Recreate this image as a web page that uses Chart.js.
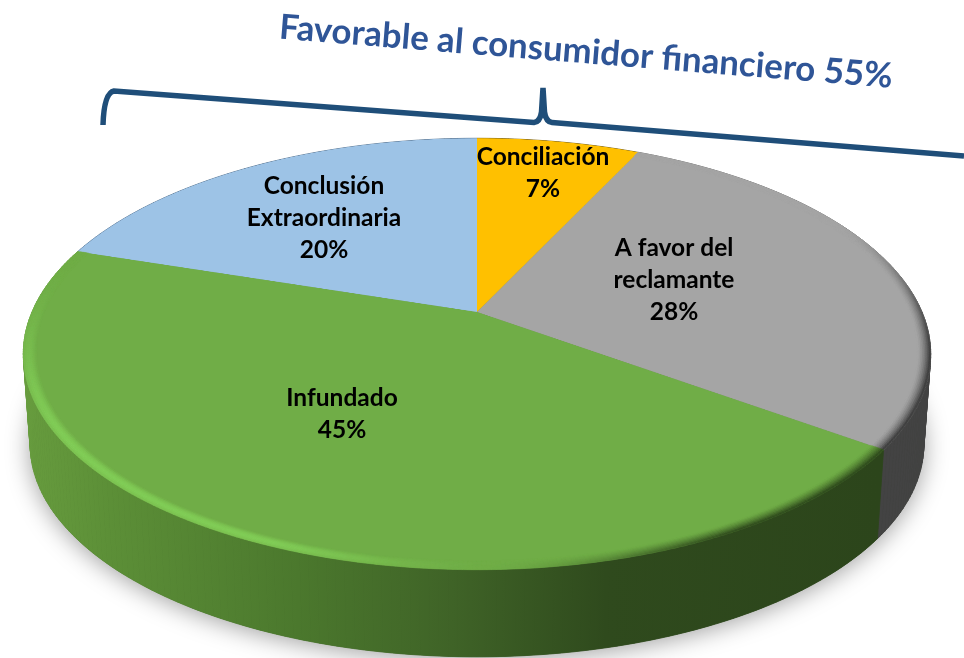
<!DOCTYPE html>
<html lang="es">
<head>
<meta charset="utf-8">
<style>
html,body{margin:0;padding:0;background:#fff;width:964px;height:658px;overflow:hidden}
#stage{position:relative;width:964px;height:658px;overflow:hidden}
#stage canvas{position:absolute}
#wall,#over{left:0;top:0}
#pie{left:0;top:0}
#pieBox{position:absolute;left:32px;top:-133px;width:890px;height:890px;transform-origin:50% 50%;transform:perspective(2022px) rotateX(62.2deg)}
</style>
<script src="https://cdn.jsdelivr.net/npm/chart.js@4"></script>
</head>
<body>
<div id="stage">
<canvas id="wall" width="964" height="658"></canvas>
<div id="pieBox"><canvas id="pie" width="890" height="890"></canvas></div>
<canvas id="over" width="964" height="658"></canvas>
</div>
<script>
const categories = ['Conciliación', 'A favor del reclamante', 'Infundado', 'Conclusión Extraordinaria'];
const values = [7, 28, 45, 20];
const sliceColors = ['#FFC000', '#A5A5A5', '#70AD47', '#9DC3E6'];
const labelLines = [['Conciliación'], ['A favor del', 'reclamante'], ['Infundado'], ['Conclusión', 'Extraordinaria']];
const chartTitle = 'Favorable al consumidor financiero 55%';

// Projection of the tilted pie (same numbers as the CSS transform)
const CX = 477, CY = 312, P = 2022, TILT = 62.2 * Math.PI / 180;
const S = Math.sin(TILT), C = Math.cos(TILT);
const WALL_DY = 91, WALL_K = 0.985;
function proj(r, a) {
  const u = r * Math.cos(a), v = r * Math.sin(a), d = 1 - v * S / P;
  return [CX + u / d, CY + v * C / d];
}
function low(p) { return [CX + (p[0] - CX) * WALL_K, CY + (p[1] - CY) * WALL_K + WALL_DY]; }
function smooth(a, b, x) { const t = Math.max(0, Math.min(1, (x - a) / (b - a))); return t * t * (3 - 2 * t); }
function mix(c1, c2, t) { return [0, 1, 2].map(i => c1[i] + (c2[i] - c1[i]) * t); }
function rgb(c) { return 'rgb(' + c.map(Math.round).join(',') + ')'; }

const labelAnchors = [[543, 157], [674, 248], [342, 398], [324, 186]];

function drawWall(arcs) {
  const ctx = document.getElementById('wall').getContext('2d');
  const R = arcs[0].outerRadius;
  ctx.clearRect(0, 0, 964, 658);
  // soft shadow under the disc
  ctx.save();
  ctx.shadowColor = 'rgba(0,0,0,0.38)';
  ctx.shadowBlur = 24;
  ctx.shadowOffsetY = 3;
  ctx.fillStyle = '#2c451b';
  ctx.beginPath();
  for (let i = 0; i <= 360; i++) {
    const p = low(proj(R, i * Math.PI / 180));
    if (i) ctx.lineTo(p[0], p[1]); else ctx.moveTo(p[0], p[1]);
  }
  ctx.closePath(); ctx.fill();
  ctx.restore();
  const g = ctx.createLinearGradient(24, 0, 880, 0);
  g.addColorStop(0, '#679c3e');
  g.addColorStop(0.1, '#5c8f37');
  g.addColorStop(0.32, '#4b782d');
  g.addColorStop(0.5, '#3f6327');
  g.addColorStop(0.68, '#2f4a1d');
  g.addColorStop(1, '#2c451b');
  const wallFill = [ '#7f6000', '#434343', g, '#4e6f8f' ];
  // walls are swept segment by segment, back slices first
  [3, 0, 1, 2].forEach(idx => {
    const arc = arcs[idx];
    ctx.fillStyle = wallFill[idx];
    ctx.strokeStyle = wallFill[idx];
    ctx.lineWidth = 0.8;
    const n = Math.ceil((arc.endAngle - arc.startAngle) * 180 / Math.PI);
    for (let i = 0; i < n; i++) {
      const a0 = arc.startAngle + (arc.endAngle - arc.startAngle) * i / n;
      const a1 = arc.startAngle + (arc.endAngle - arc.startAngle) * (i + 1) / n;
      const p0 = proj(R, a0), p1 = proj(R, a1), q1 = low(p1), q0 = low(p0);
      ctx.beginPath();
      ctx.moveTo(p0[0], p0[1]);
      ctx.lineTo(p1[0], p1[1]);
      ctx.lineTo(q1[0], q1[1]);
      ctx.lineTo(q0[0], q0[1]);
      ctx.closePath(); ctx.fill(); ctx.stroke();
    }
  });
}

function drawBevel(ctx, arcs) {
  const R = arcs[0].outerRadius, BAND = 0.028, LAYERS = 8;
  const gray = [165, 165, 165], grayEdge = [52, 52, 52];
  const green = [112, 173, 71], greenDark = [44, 69, 27], greenBright = [130, 205, 88];
  [1, 2].forEach(idx => {
    const arc = arcs[idx];
    const n = Math.ceil((arc.endAngle - arc.startAngle) * 360 / Math.PI);
    for (let k = LAYERS - 1; k >= 0; k--) {
      const t0 = k / LAYERS, t1 = (k + 1) / LAYERS, tm = (t0 + t1) / 2;
      for (let i = 0; i < n; i++) {
        const a0 = arc.startAngle + (arc.endAngle - arc.startAngle) * i / n;
        const a1 = arc.startAngle + (arc.endAngle - arc.startAngle) * (i + 1) / n;
        const deg = ((a0 + Math.PI / 2) * 180 / Math.PI + 360) % 360;
        let col;
        if (idx === 1) {
          col = mix(gray, grayEdge, Math.pow(1 - tm, 1.6) * smooth(60, 105, deg));
        } else {
          const bright = smooth(178, 205, deg) * (1 - smooth(235, 285, deg));
          const dark = 1 - smooth(148, 180, deg);
          col = mix(green, greenBright, bright * Math.sin(Math.PI * (1 - tm) * 0.8));
          col = mix(col, greenDark, dark * Math.pow(1 - tm, 1.3));
        }
        const r0 = R * (1 - BAND * t0), r1 = R * (1 - BAND * t1);
        const p = [proj(r0, a0), proj(r0, a1), proj(r1, a1), proj(r1, a0)];
        ctx.fillStyle = ctx.strokeStyle = rgb(col);
        ctx.lineWidth = 0.6;
        ctx.beginPath();
        p.forEach((q, j) => j ? ctx.lineTo(q[0], q[1]) : ctx.moveTo(q[0], q[1]));
        ctx.closePath(); ctx.fill(); ctx.stroke();
      }
    }
  });
}

function drawOverlay(arcs) {
  const ctx = document.getElementById('over').getContext('2d');
  ctx.clearRect(0, 0, 964, 658);
  drawBevel(ctx, arcs);

  // bracket
  ctx.strokeStyle = '#1F4E79';
  ctx.lineWidth = 5.5;
  ctx.lineJoin = 'miter';
  ctx.miterLimit = 2;
  ctx.beginPath();
  ctx.moveTo(103, 125);
  ctx.quadraticCurveTo(104, 93, 114, 91);
  ctx.lineTo(534, 122.5);
  ctx.quadraticCurveTo(540, 122, 541.5, 112);
  ctx.lineTo(543, 88);
  ctx.lineTo(544.5, 112);
  ctx.quadraticCurveTo(546, 122, 552, 122.5);
  ctx.lineTo(964, 156);
  ctx.stroke();

  // slice labels
  ctx.fillStyle = '#000';
  ctx.font = 'bold 24.5px Lato';
  ctx.textAlign = 'center';
  ctx.textBaseline = 'middle';
  values.forEach((v, i) => {
    const lines = labelLines[i].concat([v + '%']);
    const a = labelAnchors[i];
    lines.forEach((t, j) => ctx.fillText(t, a[0], a[1] + j * 32));
  });

  // title
  ctx.save();
  ctx.translate(586, 52);
  ctx.rotate(4.6 * Math.PI / 180);
  ctx.fillStyle = '#2F5597';
  ctx.font = 'bold 34.8px Lato';
  ctx.fillText(chartTitle, 0, 0);
  ctx.restore();
}

const layerPlugin = {
  id: 'layers',
  afterDraw(chart) {
    const arcs = chart.getDatasetMeta(0).data;
    drawWall(arcs);
    drawOverlay(arcs);
  }
};

new Chart(document.getElementById('pie'), {
  type: 'pie',
  data: {
    labels: categories,
    datasets: [{ data: values, backgroundColor: sliceColors, borderWidth: 0, hoverOffset: 0 }]
  },
  options: {
    responsive: false,
    animation: false,
    devicePixelRatio: 2,
    layout: { padding: 0 },
    plugins: { legend: { display: false }, tooltip: { enabled: false } }
  },
  plugins: [layerPlugin]
});
</script>
</body>
</html>
